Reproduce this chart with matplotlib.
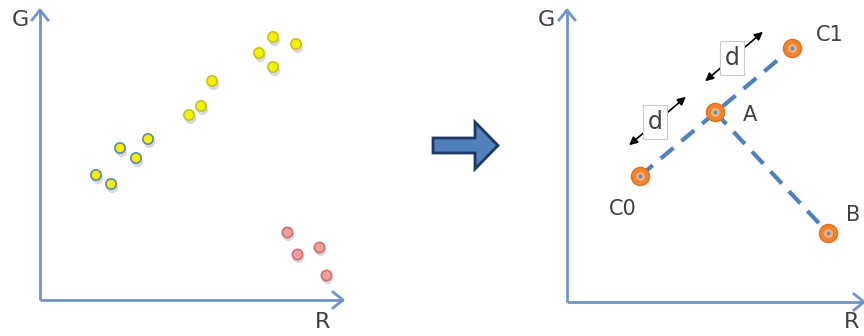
import matplotlib.pyplot as plt
from matplotlib.patches import FancyArrow

# pixel-like coordinates (y grows downward)
yellow_r = [96, 111, 120, 136, 148, 189, 201, 212, 259, 273, 296, 273]
yellow_g = [175, 184, 148, 158, 139, 115, 106, 81, 53, 37, 44, 67]
yellow_edge = ['#5a8ab0'] * 5 + ['#c8c020'] * 7
pink_r = [287, 297, 319, 326]
pink_g = [232, 254, 247, 275]

node_names = ['C0', 'A', 'C1', 'B']
node_r = [640, 715, 792, 828]
node_g = [176, 112, 48, 233]
label_r = [623, 750, 830, 853]
label_g = [209, 115, 35, 215]

axis_col = '#6f94c8'
line_col = '#4f81bd'
txt_col = '#404040'

fig = plt.figure(figsize=(8.64, 3.36), dpi=100)
ax = fig.add_axes([0, 0, 1, 1])
ax.set_xlim(0, 864)
ax.set_ylim(336, 0)
ax.axis('off')

def draw_axes(x0, y0, x1, ytop):
    ax.plot([x0, x1], [y0, y0], color=axis_col, lw=2, solid_capstyle='butt')
    ax.plot([x0, x0], [y0, ytop], color=axis_col, lw=2, solid_capstyle='butt')
    ax.plot([x1 - 10, x1, x1 - 10], [y0 - 8, y0, y0 + 8], color=axis_col, lw=2)
    ax.plot([x0 - 8, x0, x0 + 8], [ytop + 10, ytop, ytop + 10], color=axis_col, lw=2)

draw_axes(40, 300, 343, 10)
draw_axes(567, 302, 864, 10)
ax.text(20, 20, 'G', fontsize=16, color=txt_col, ha='center', va='center')
ax.text(323, 322, 'R', fontsize=16, color=txt_col, ha='center', va='center')
ax.text(546, 20, 'G', fontsize=16, color=txt_col, ha='center', va='center')
ax.text(852, 322, 'R', fontsize=16, color=txt_col, ha='center', va='center')

# left panel points with soft shadow
ax.scatter([r + 1 for r in yellow_r], [g + 3 for g in yellow_g], s=65, color='#c0c0c0', alpha=0.6, lw=0, zorder=2)
ax.scatter(yellow_r, yellow_g, s=55, color='#f5f000', edgecolors=yellow_edge, linewidths=1.2, zorder=3)
ax.scatter([r + 1 for r in pink_r], [g + 3 for g in pink_g], s=65, color='#c0c0c0', alpha=0.6, lw=0, zorder=2)
ax.scatter(pink_r, pink_g, s=55, color='#f0a0a0', edgecolors='#d07070', linewidths=1.2, zorder=3)

# big arrow between panels
ax.add_patch(FancyArrow(433, 145.5, 65, 0, width=15, head_width=47, head_length=23,
                        length_includes_head=True, facecolor='#4f81bd', edgecolor='#1f3864', lw=2, zorder=3))

# right panel
ax.plot([node_r[0], node_r[2]], [node_g[0], node_g[2]], color=line_col, lw=3, dashes=(4, 2.5), zorder=2)
ax.plot([node_r[1], node_r[3]], [node_g[1], node_g[3]], color=line_col, lw=3, dashes=(4, 2.5), zorder=2)
ax.scatter(node_r, node_g, s=170, color='#f0852d', edgecolors='#e07020', lw=1, zorder=3)
ax.scatter(node_r, node_g, s=40, color='#f6b080', lw=0, zorder=4)
ax.scatter(node_r, node_g, s=8, color='#5b8fc8', lw=0, zorder=5)
for name, x, y in zip(node_names, label_r, label_g):
    ax.text(x, y, name, fontsize=15, color=txt_col, ha='center', va='center')

for (xa, ya, xb, yb, xt, yt) in [(627, 147, 688, 95, 655, 122), (703, 83, 765, 30, 732, 58)]:
    ax.annotate('', xy=(xa, ya), xytext=(xb, yb),
                arrowprops=dict(arrowstyle='<|-|>', color='black', lw=1.2, mutation_scale=12))
    ax.text(xt, yt, 'd', fontsize=17, color=txt_col, ha='center', va='center', zorder=5,
            bbox=dict(boxstyle='square,pad=0.2', facecolor='white', edgecolor='#c8c8c8', lw=0.8))

fig.savefig('out.png', dpi=100)
